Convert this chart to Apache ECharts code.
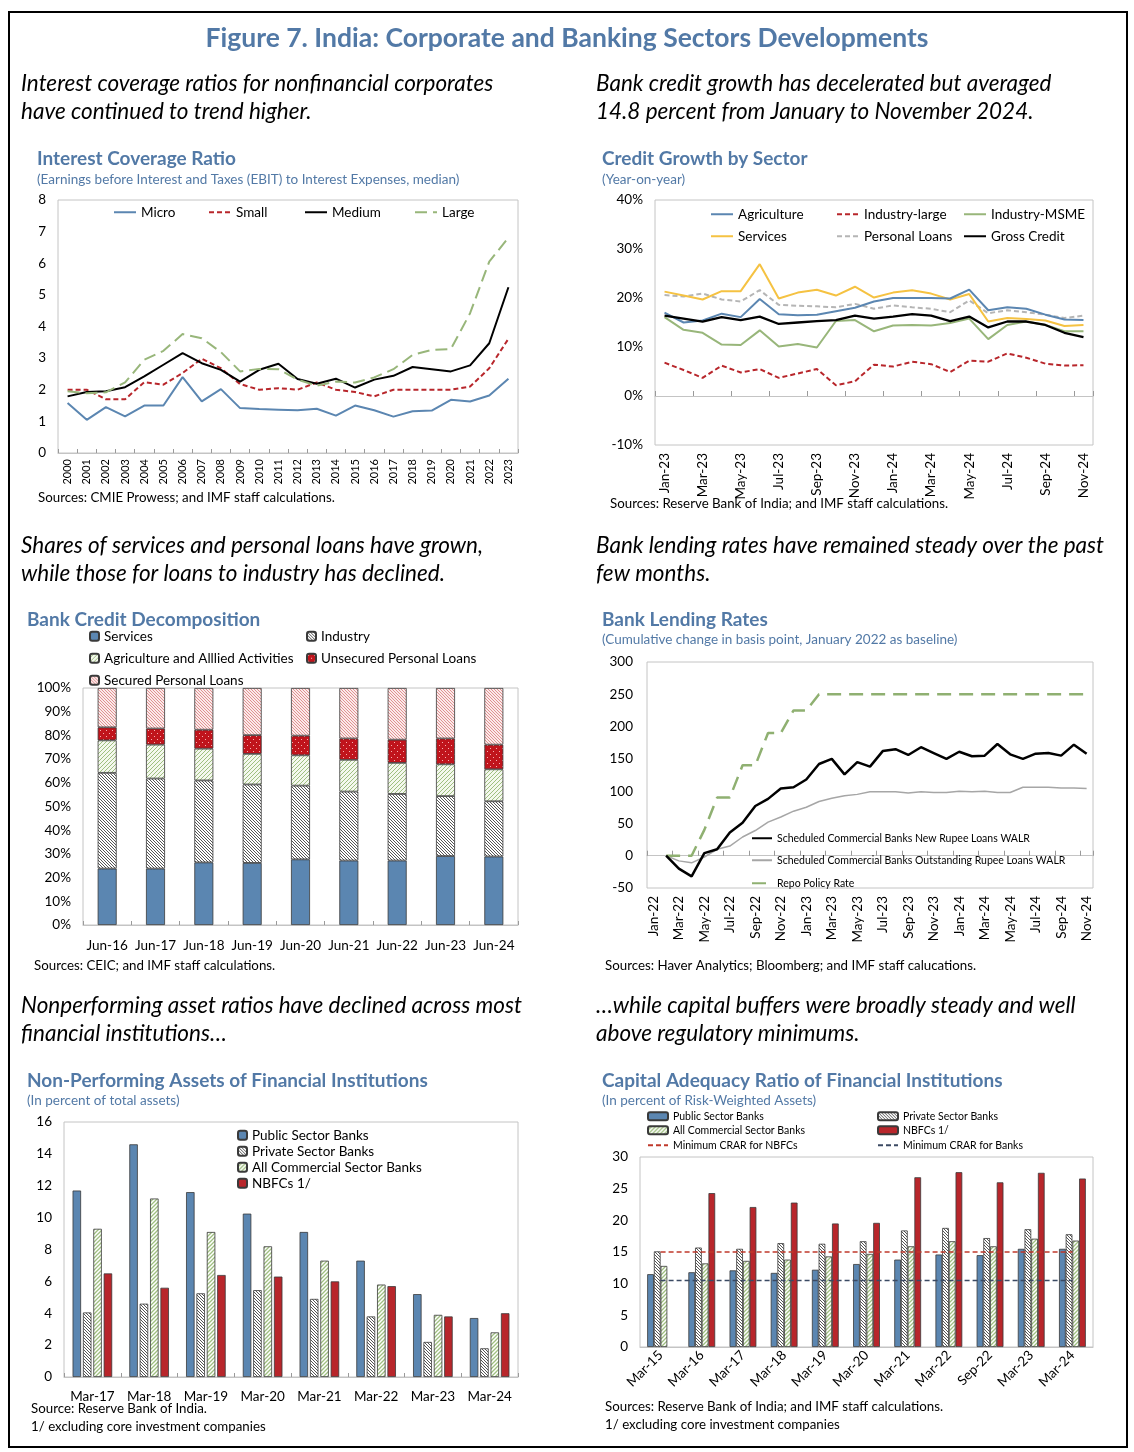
<!DOCTYPE html>
<html><head><meta charset="utf-8">
<script src="https://cdn.jsdelivr.net/npm/echarts@6/dist/echarts.min.js"></script>
<style>html,body{margin:0;padding:0;background:#fff}#c{width:1134px;height:1452px}</style>
</head><body><div id="c"></div>
<script>
// ---------- DATA ----------
const icrYears = ['2000','2001','2002','2003','2004','2005','2006','2007','2008','2009','2010','2011','2012','2013','2014','2015','2016','2017','2018','2019','2020','2021','2022','2023'];
const icrMicro  = [1.58,1.05,1.45,1.16,1.50,1.50,2.40,1.63,2.02,1.42,1.39,1.37,1.35,1.40,1.18,1.50,1.35,1.15,1.32,1.34,1.68,1.63,1.82,2.35];
const icrSmall  = [2.00,2.00,1.70,1.70,2.24,2.16,2.53,2.98,2.68,2.18,2.00,2.05,2.00,2.23,2.00,1.93,1.79,2.00,2.00,2.00,2.00,2.10,2.68,3.61];
const icrMedium = [1.79,1.93,1.95,2.08,2.42,2.79,3.16,2.84,2.63,2.26,2.63,2.82,2.34,2.19,2.35,2.07,2.32,2.44,2.72,2.65,2.58,2.77,3.47,5.24];
const icrLarge  = [1.95,1.89,1.92,2.23,2.95,3.23,3.76,3.63,3.19,2.58,2.66,2.65,2.32,2.13,2.26,2.23,2.39,2.65,3.10,3.26,3.29,4.42,6.05,6.81];

const cgMonths = ['Jan-23','Feb-23','Mar-23','Apr-23','May-23','Jun-23','Jul-23','Aug-23','Sep-23','Oct-23','Nov-23','Dec-23','Jan-24','Feb-24','Mar-24','Apr-24','May-24','Jun-24','Jul-24','Aug-24','Sep-24','Oct-24','Nov-24'];
const cgAgri     = [17.0,15.0,15.4,16.8,16.1,19.8,16.7,16.5,16.6,17.3,18.0,19.3,20.0,20.0,20.0,19.9,21.7,17.5,18.1,17.8,16.6,15.6,15.5];
const cgIndLarge = [6.8,5.3,3.7,6.2,4.8,5.5,3.7,4.6,5.5,2.2,3.0,6.4,6.0,7.0,6.5,4.9,7.2,7.0,8.7,7.8,6.6,6.2,6.3];
const cgMSME     = [16.1,13.5,12.9,10.5,10.4,13.4,10.1,10.6,9.9,15.3,15.5,13.2,14.4,14.5,14.4,14.9,15.8,11.6,14.5,15.2,14.5,13.2,13.2];
const cgServices = [21.3,20.5,19.7,21.4,21.4,26.9,19.9,21.1,21.7,20.5,22.3,20.1,21.1,21.6,20.9,19.7,20.8,15.2,15.9,15.7,15.4,14.3,14.5];
const cgPersonal = [20.6,20.3,20.9,19.7,19.3,21.6,18.6,18.4,18.3,18.1,18.8,17.8,18.5,18.1,17.8,17.1,19.5,16.9,17.5,17.1,16.6,15.9,16.4];
const cgGross    = [16.4,15.8,15.2,16.1,15.5,16.2,14.7,15.0,15.3,15.5,16.4,15.8,16.2,16.7,16.4,15.3,16.2,14.0,15.2,15.2,14.5,12.9,12.0];

const bcdCats = ['Jun-16','Jun-17','Jun-18','Jun-19','Jun-20','Jun-21','Jun-22','Jun-23','Jun-24'];
const bcdServices  = [23.8,23.8,26.4,26.2,27.7,27.2,27.2,29.1,28.9];
const bcdIndustry  = [40.4,38.0,34.6,33.1,31.1,29.1,28.1,25.3,23.3];
const bcdAgri      = [13.7,14.3,13.4,12.9,12.8,13.4,13.1,13.4,13.5];
const bcdUnsecured = [5.5,6.8,8.0,7.9,8.3,9.0,9.8,10.9,10.4];
const bcdSecured   = [16.6,17.1,17.6,19.9,20.1,21.3,21.8,21.3,23.9];

const lrMonths = ['Jan-22','Feb-22','Mar-22','Apr-22','May-22','Jun-22','Jul-22','Aug-22','Sep-22','Oct-22','Nov-22','Dec-22','Jan-23','Feb-23','Mar-23','Apr-23','May-23','Jun-23','Jul-23','Aug-23','Sep-23','Oct-23','Nov-23','Dec-23','Jan-24','Feb-24','Mar-24','Apr-24','May-24','Jun-24','Jul-24','Aug-24','Sep-24','Oct-24','Nov-24'];
const lrNew  = [null,0,-20,-32,4,10,36,51,77,88,104,106,118,142,150,126,145,138,162,165,156,168,159,150,161,154,155,173,157,150,158,159,155,172,158];
const lrOut  = [null,0,-8,-11,-2,10,15,29,39,52,60,69,75,84,89,93,95,99,99,99,97,99,98,98,100,99,100,98,98,106,106,106,105,105,104];
const lrRepo = [null,0,0,0,40,90,90,140,140,190,190,225,225,250,250,250,250,250,250,250,250,250,250,250,250,250,250,250,250,250,250,250,250,250,250];

const npaCats = ['Mar-17','Mar-18','Mar-19','Mar-20','Mar-21','Mar-22','Mar-23','Mar-24'];
const npaPSB  = [11.7,14.6,11.6,10.25,9.1,7.3,5.2,3.7];
const npaPvt  = [4.05,4.6,5.25,5.45,4.9,3.8,2.2,1.8];
const npaAll  = [9.3,11.2,9.1,8.2,7.3,5.8,3.9,2.8];
const npaNBFC = [6.5,5.6,6.4,6.3,6.0,5.7,3.8,4.0];

const carCats = ['Mar-15','Mar-16','Mar-17','Mar-18','Mar-19','Mar-20','Mar-21','Mar-22','Sep-22','Mar-23','Mar-24'];
const carPSB  = [11.5,11.8,12.1,11.7,12.2,13.1,13.8,14.6,14.5,15.5,15.5];
const carPvt  = [15.1,15.7,15.5,16.4,16.3,16.7,18.4,18.8,17.2,18.6,17.8];
const carAll  = [12.8,13.2,13.6,13.8,14.3,14.7,15.9,16.7,15.9,17.1,16.8];
const carNBFC = [null,24.3,22.1,22.8,19.5,19.6,26.8,27.6,26.0,27.5,26.6];
const carMinNBFC = [15,15,15,15,15,15,15,15,15,15,15];
const carMinBank = [10.5,10.5,10.5,10.5,10.5,10.5,10.5,10.5,10.5,10.5,10.5];

// ---------- STYLE ----------
const FF = 'Lato, "Open Sans", sans-serif';
const BLUE_T = '#5279a6';
const C_BLUE = '#5b86b1', C_RED = '#b8262b', C_GREEN = '#98b67a', C_YEL = '#f5c242', C_GRAY = '#b5b5b5';

function hatch(bg, fg, dir, step, lw) {
  const c = document.createElement('canvas'); c.width = step; c.height = step;
  const g = c.getContext('2d'); g.fillStyle = bg; g.fillRect(0, 0, step, step);
  g.strokeStyle = fg; g.lineWidth = lw; g.beginPath();
  if (dir === '/') { g.moveTo(0, step); g.lineTo(step, 0); g.moveTo(-2, 2); g.lineTo(2, -2); g.moveTo(step - 2, step + 2); g.lineTo(step + 2, step - 2); }
  else { g.moveTo(0, 0); g.lineTo(step, step); g.moveTo(step - 2, -2); g.lineTo(step + 2, 2); g.moveTo(-2, step - 2); g.lineTo(2, step + 2); }
  g.stroke();
  return { image: c, repeat: 'repeat' };
}
function dots(bg, fg, step) {
  const c = document.createElement('canvas'); c.width = step; c.height = step;
  const g = c.getContext('2d'); g.fillStyle = bg; g.fillRect(0, 0, step, step);
  g.fillStyle = fg; g.fillRect(1, 1, 1, 1); g.fillRect(1 + step / 2, 1 + step / 2, 1, 1);
  return { image: c, repeat: 'repeat' };
}
const P_IND = hatch('#ffffff', '#555555', '\\', 3, 1);
const P_AGR = hatch('#f4f8ee', '#9fbf80', '/', 4, 1);
const P_UNS = dots('#c0141c', '#f5b0b0', 6);
const P_SEC = hatch('#fbeaea', '#d97a7a', '\\', 3, 0.8);
const P_PVT = hatch('#ffffff', '#555555', '\\', 3, 1);
const P_ALL = hatch('#ffffff', '#9fbf80', '/', 4, 1.3);

const OUT = { borderColor: '#3a3a3a', borderWidth: 0.8 };

// ---------- TEXTS ----------
const G = [];
function T(str, x, y, size, o) {
  G.push({ type: 'text', x: x, y: y, silent: true, style: Object.assign({ text: str, fontFamily: FF, fontSize: size, fill: '#000', verticalAlign: 'middle', align: 'left' }, o || {}) });
}
G.push({ type: 'rect', shape: { x: 9, y: 12, width: 1118, height: 1435 }, style: { fill: 'none', stroke: '#000', lineWidth: 2 }, silent: true });
T('Figure 7. India: Corporate and Banking Sectors Developments', 567, 38, 26.5, { fontWeight: 'bold', fill: BLUE_T, align: 'center' });
const IT = { fontStyle: 'italic' };
const IS = 22.5;
T('Interest coverage ratios for nonfinancial corporates', 21, 84, IS, IT);
T('have continued to trend higher.', 21, 112, IS, IT);
T('Bank credit growth has decelerated but averaged', 596, 84, IS, IT);
T('14.8 percent from January to November 2024.', 596, 112, IS, IT);
T('Shares of services and personal loans have grown,', 21, 546, IS, IT);
T('while those for loans to industry has declined.', 21, 574, IS, IT);
T('Bank lending rates have remained steady over the past', 596, 546, IS, IT);
T('few months.', 596, 574, IS, IT);
T('Nonperforming asset ratios have declined across most', 21, 1006, IS, IT);
T('financial institutions…', 21, 1034, IS, IT);
T('…while capital buffers were broadly steady and well', 596, 1006, IS, IT);
T('above regulatory minimums.', 596, 1034, IS, IT);
const CT = { fontWeight: 'bold', fill: BLUE_T };
const CS = { fill: BLUE_T };
const TS = 19, SS = 13.5, SRC = 13.3;
T('Interest Coverage Ratio', 37, 159, TS, CT);
T('(Earnings before Interest and Taxes (EBIT) to Interest Expenses, median)', 37, 180, SS, CS);
T('Credit Growth by Sector', 602, 159, TS, CT);
T('(Year-on-year)', 602, 180, SS, CS);
T('Bank Credit Decomposition', 27, 620, TS, CT);
T('Bank Lending Rates', 602, 620, TS, CT);
T('(Cumulative change in basis point, January 2022 as baseline)', 602, 640, SS, CS);
T('Non-Performing Assets of Financial Institutions', 27, 1081, TS, CT);
T('(In percent of total assets)', 27, 1101, SS, CS);
T('Capital Adequacy Ratio of Financial Institutions', 602, 1081, TS, CT);
T('(In percent of Risk-Weighted Assets)', 602, 1101, SS, CS);
T('Sources: CMIE Prowess; and IMF staff calculations.', 38, 498, SRC);
T('Sources: Reserve Bank of India; and IMF staff calculations.', 610, 504, SRC);
T('Sources: CEIC; and IMF staff calculations.', 34, 966, SRC);
T('Sources: Haver Analytics; Bloomberg; and IMF staff calucations.', 605, 966, SRC);
T('Source: Reserve Bank of India.', 31, 1409, SRC);
T('1/ excluding core investment companies', 31, 1427, SRC);
T('Sources: Reserve Bank of India; and IMF staff calculations.', 605, 1407, SRC);
T('1/ excluding core investment companies', 605, 1425, SRC);

// ---------- LEGENDS ----------
const LEG = [];
function L(name, x, yc, o) {
  o = o || {};
  const fs = o.fs || 13.5, iw = o.iw || 22, ih = o.ih || 10;
  const lg = { data: [name], left: x, top: yc - Math.max(ih, fs) / 2 - 1, padding: 0, itemWidth: iw, itemHeight: ih, itemGap: 0, selectedMode: false,
    textStyle: { fontFamily: FF, fontSize: fs, color: '#000' } };
  if (o.line) lg.itemStyle = { opacity: 0 };
  LEG.push(lg);
}
const LN = { line: true };
L('Micro', 113, 213, LN); L('Small', 208, 213, LN); L('Medium', 304, 213, LN); L('Large', 414, 213, LN);
L('Agriculture', 710, 215, LN); L('Industry-large', 836, 215, LN); L('Industry-MSME', 963, 215, LN);
L('Services', 710, 237, LN); L('Personal Loans', 836, 237, LN); L('Gross Credit', 963, 237, LN);
const SQ = { iw: 9, ih: 9 };
L('Services ', 89, 637, SQ); L('Industry', 306, 637, SQ);
L('Agriculture and Alllied Activities', 89, 659, SQ); L('Unsecured Personal Loans', 306, 659, SQ);
L('Secured Personal Loans', 89, 681, SQ);
const SM = { fs: 10.5, iw: 20, ih: 8 };
const SML = { fs: 10.5, iw: 20, ih: 8, line: true };
L('Scheduled Commercial Banks New Rupee Loans WALR', 751, 839, SML);
L('Scheduled Commercial Banks Outstanding Rupee Loans WALR', 751, 861, SML);
L('Repo Policy Rate', 751, 884, SML);
L('Public Sector Banks', 237, 1136, SQ); L('Private Sector Banks', 237, 1152, SQ);
L('All Commercial Sector Banks', 237, 1168, SQ); L('NBFCs 1/', 237, 1184, SQ);
L('Public Sector Banks ', 647, 1117, SM); L('Private Sector Banks ', 877, 1117, SM);
L('All Commercial Sector Banks ', 647, 1131, SM); L('NBFCs 1/ ', 877, 1131, SM);
L('Minimum CRAR for NBFCs', 647, 1146, SML); L('Minimum CRAR for Banks', 877, 1146, SML);

// ---------- AXES ----------
const GRID = [
  { left: 58, top: 200, width: 460, height: 253 },
  { left: 655, top: 200, width: 438, height: 245 },
  { left: 83, top: 688, width: 435, height: 237 },
  { left: 647, top: 662, width: 446, height: 226 },
  { left: 64, top: 1122, width: 454, height: 255 },
  { left: 640, top: 1157, width: 453, height: 190 }
].map(g => Object.assign({ show: true, borderColor: '#c4c4c4', borderWidth: 1, backgroundColor: 'transparent' }, g));

const LBL = { fontFamily: FF, fontSize: 13.5, color: '#000' };
const TICK = { show: true, inside: true, length: 4, lineStyle: { color: '#9a9a9a' } };
function yAx(gi, min, max, iv, fmt) {
  return { type: 'value', gridIndex: gi, min: min, max: max, interval: iv, splitLine: { show: false }, axisLine: { show: false }, axisTick: { show: false },
    axisLabel: Object.assign({ margin: 12, formatter: fmt || '{value}' }, LBL) };
}
const xAxis = [
  { type: 'category', gridIndex: 0, data: icrYears, boundaryGap: true, axisLine: { show: true, lineStyle: { color: '#c4c4c4' } }, axisTick: Object.assign({ interval: 0 }, TICK),
    axisLabel: Object.assign({}, LBL, { fontSize: 11, rotate: 90, interval: 0, margin: 6 }) },
  { type: 'category', gridIndex: 1, data: cgMonths, boundaryGap: true, position: 'bottom', axisLine: { show: false, onZero: false }, axisTick: { show: false },
    axisLabel: Object.assign({}, LBL, { rotate: 90, interval: 1, margin: 8 }) },
  { type: 'category', gridIndex: 1, data: cgMonths, boundaryGap: true, position: 'bottom', axisLine: { show: true, onZero: true, lineStyle: { color: '#c4c4c4' } },
    axisTick: Object.assign({ interval: 1 }, TICK, { length: 5 }), axisLabel: { show: false } },
  { type: 'category', gridIndex: 2, data: bcdCats, boundaryGap: true, axisLine: { show: true, lineStyle: { color: '#c4c4c4' } }, axisTick: Object.assign({ interval: 0 }, TICK),
    axisLabel: Object.assign({}, LBL, { interval: 0, margin: 14 }) },
  { type: 'category', gridIndex: 3, data: lrMonths, boundaryGap: true, position: 'bottom', axisLine: { show: false, onZero: false }, axisTick: { show: false },
    axisLabel: Object.assign({}, LBL, { rotate: 90, interval: 1, margin: 8 }) },
  { type: 'category', gridIndex: 3, data: lrMonths, boundaryGap: true, position: 'bottom', axisLine: { show: true, onZero: true, lineStyle: { color: '#c4c4c4' } },
    axisTick: Object.assign({ interval: 1 }, TICK, { length: 5 }), axisLabel: { show: false } },
  { type: 'category', gridIndex: 4, data: npaCats, boundaryGap: true, axisLine: { show: true, lineStyle: { color: '#c4c4c4' } }, axisTick: Object.assign({ interval: 0 }, TICK),
    axisLabel: Object.assign({}, LBL, { interval: 0, margin: 13 }) },
  { type: 'category', gridIndex: 5, data: carCats, boundaryGap: true, axisLine: { show: true, lineStyle: { color: '#c4c4c4' } }, axisTick: { show: false },
    axisLabel: Object.assign({}, LBL, { interval: 0, rotate: 45, margin: 6 }) }
];
const yAxis = [
  yAx(0, 0, 8, 1),
  yAx(1, -10, 40, 10, '{value}%'),
  yAx(2, 0, 100, 10, '{value}%'),
  yAx(3, -50, 300, 50),
  yAx(4, 0, 16, 2),
  yAx(5, 0, 30, 5)
];
yAxis[3].axisLabel.margin = 14;

function line(name, xi, yi, data, color, w, type) {
  return { name: name, type: 'line', xAxisIndex: xi, yAxisIndex: yi, data: data, symbol: 'none', connectNulls: false,
    itemStyle: { color: color }, lineStyle: { color: color, width: w, type: type || 'solid' } };
}
function bar(name, xi, yi, data, fill, o) {
  return Object.assign({ name: name, type: 'bar', xAxisIndex: xi, yAxisIndex: yi, data: data, itemStyle: Object.assign({ color: fill }, OUT) }, o || {});
}

const series = [
  line('Micro', 0, 0, icrMicro, C_BLUE, 2),
  line('Small', 0, 0, icrSmall, C_RED, 2, [5, 3]),
  line('Medium', 0, 0, icrMedium, '#000', 2),
  line('Large', 0, 0, icrLarge, C_GREEN, 2, [12, 6]),

  line('Industry-MSME', 1, 1, cgMSME, C_GREEN, 2),
  line('Personal Loans', 1, 1, cgPersonal, C_GRAY, 2, [5, 3]),
  line('Services', 1, 1, cgServices, C_YEL, 2),
  line('Agriculture', 1, 1, cgAgri, C_BLUE, 2),
  line('Industry-large', 1, 1, cgIndLarge, C_RED, 2, [5, 3]),
  line('Gross Credit', 1, 1, cgGross, '#000', 2.3),

  bar('Services ', 3, 2, bcdServices, C_BLUE, { stack: 'b', barWidth: 19 }),
  bar('Industry', 3, 2, bcdIndustry, P_IND, { stack: 'b', barWidth: 19 }),
  bar('Agriculture and Alllied Activities', 3, 2, bcdAgri, P_AGR, { stack: 'b', barWidth: 19 }),
  bar('Unsecured Personal Loans', 3, 2, bcdUnsecured, P_UNS, { stack: 'b', barWidth: 19 }),
  bar('Secured Personal Loans', 3, 2, bcdSecured, P_SEC, { stack: 'b', barWidth: 19 }),

  line('Scheduled Commercial Banks Outstanding Rupee Loans WALR', 4, 3, lrOut, '#a6a6a6', 1.5),
  line('Repo Policy Rate', 4, 3, lrRepo, '#8fb071', 2.5, [14, 8]),
  line('Scheduled Commercial Banks New Rupee Loans WALR', 4, 3, lrNew, '#000', 2.5),

  bar('Public Sector Banks', 6, 4, npaPSB, C_BLUE, { barWidth: 8.5, barGap: '22%' }),
  bar('Private Sector Banks', 6, 4, npaPvt, P_PVT, { barWidth: 8.5, barGap: '22%' }),
  bar('All Commercial Sector Banks', 6, 4, npaAll, P_ALL, { barWidth: 8.5, barGap: '22%' }),
  bar('NBFCs 1/', 6, 4, npaNBFC, C_RED, { barWidth: 8.5, barGap: '22%' }),

  bar('Public Sector Banks ', 7, 5, carPSB, C_BLUE, { barWidth: 6.7, barGap: '0%' }),
  bar('Private Sector Banks ', 7, 5, carPvt, P_PVT, { barWidth: 6.7, barGap: '0%' }),
  bar('All Commercial Sector Banks ', 7, 5, carAll, P_ALL, { barWidth: 6.7, barGap: '0%' }),
  bar('NBFCs 1/ ', 7, 5, carNBFC, C_RED, { barWidth: 6.7, barGap: '0%' }),
  line('Minimum CRAR for NBFCs', 7, 5, carMinNBFC, '#c0392b', 1.5, [5, 3]),
  line('Minimum CRAR for Banks', 7, 5, carMinBank, '#3b4a63', 1.5, [5, 3])
];

const chart = echarts.init(document.getElementById('c'), null, { renderer: 'canvas' });
chart.setOption({
  animation: false,
  backgroundColor: '#fff',
  textStyle: { fontFamily: FF },
  grid: GRID,
  xAxis: xAxis,
  yAxis: yAxis,
  legend: LEG,
  series: series,
  graphic: G
});
</script>
</body></html>
